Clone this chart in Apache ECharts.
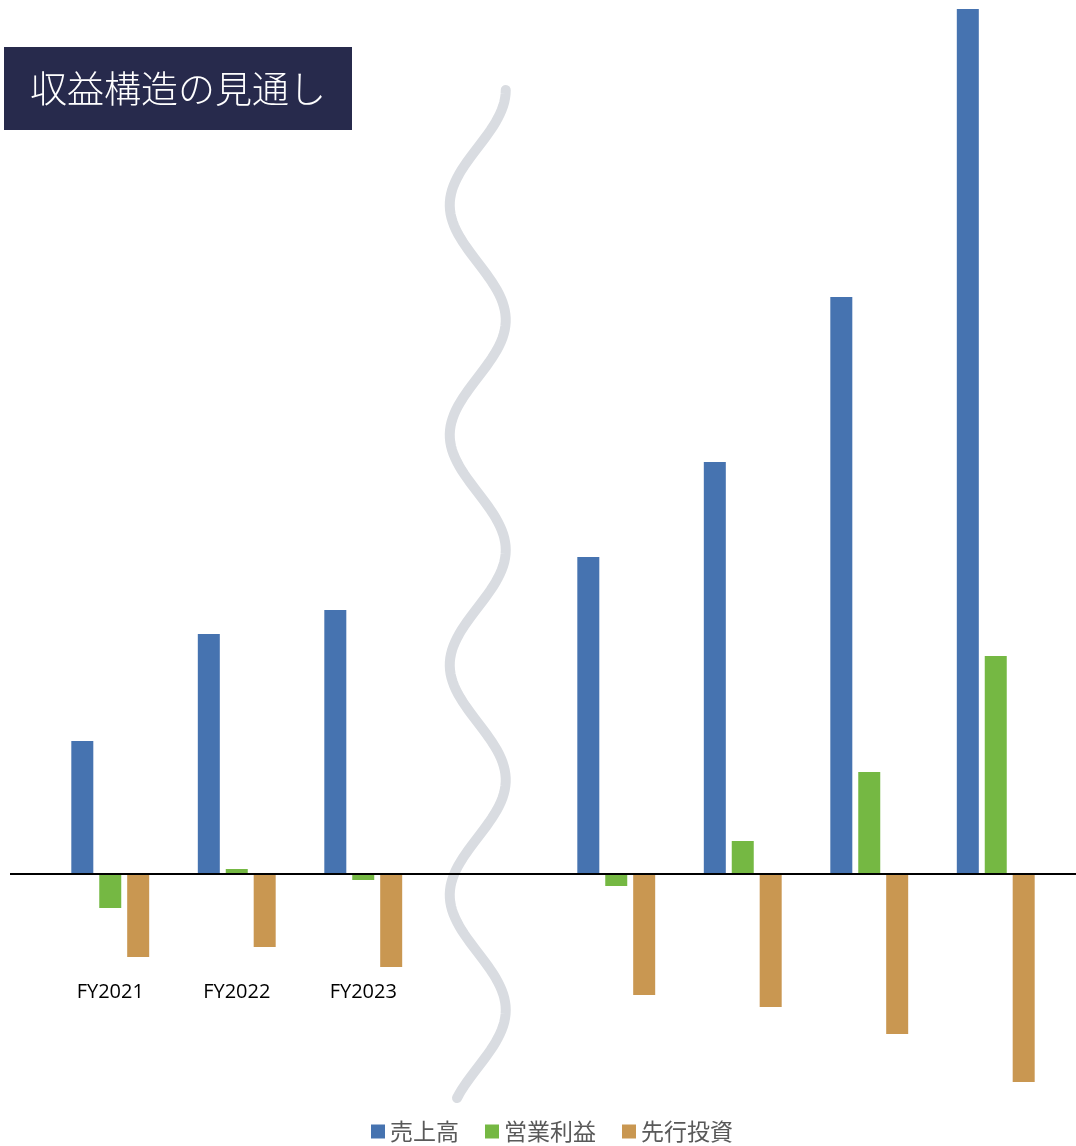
<!DOCTYPE html>
<html>
<head>
<meta charset="utf-8">
<script src="https://cdn.jsdelivr.net/npm/echarts@6/dist/echarts.min.js"></script>
<style>
  html, body { margin: 0; padding: 0; background: #fff; }
  #chart { width: 1076px; height: 1146px; }
</style>
</head>
<body>
<div id="chart"></div>
<script>
  // カテゴリ（4番目は波線の区切り用の空き枠）
  const categories = ['FY2021', 'FY2022', 'FY2023', '', 'FY2025', 'FY2026', 'FY2027', 'FY2028']
  const tickLabels = ['FY2021', 'FY2022', 'FY2023', '', '', '', '', '']
  const sales = [133, 240, 264, null, 317, 412, 577, 865]
  const opProfit = [-34, 5, -6, null, -12, 33, 102, 218]
  const investment = [-83, -73, -93, null, -121, -133, -160, -208]

  const chart = echarts.init(document.getElementById('chart'))

  chart.setOption({
    animation: false,
    textStyle: {
      fontFamily: '"Noto Sans CJK JP", "Noto Sans", sans-serif'
    },
    legend: {
      left: 366,
      bottom: -2,
      itemWidth: 14,
      itemHeight: 14,
      itemGap: 26,
      icon: 'rect',
      textStyle: {
        fontSize: 23,
        color: '#595959'
      },
      data: ['売上高', '営業利益', '先行投資']
    },
    grid: {
      top: 9,
      left: 47,
      right: 17,
      bottom: 22,
      containLabel: false,
      outerBoundsMode: 'none'
    },
    xAxis: {
      type: 'category',
      data: categories,
      axisLine: { show: false, onZero: false },
      axisTick: { show: false },
      axisLabel: {
        margin: -142,
        fontSize: 20,
        color: '#000',
        fontFamily: '"Open Sans", sans-serif',
        formatter: (val, idx) => tickLabels[idx]
      }
    },
    yAxis: {
      type: 'value',
      show: false,
      min: -250,
      max: 865,
      splitLine: { show: false }
    },
    series: [
      {
        name: '売上高',
        type: 'bar',
        data: sales,
        barWidth: 22,
        barGap: '27%',
        itemStyle: { color: '#4673b0' }
      },
      {
        name: '営業利益',
        type: 'bar',
        data: opProfit,
        barWidth: 22,
        barGap: '27%',
        itemStyle: { color: '#75b843' }
      },
      {
        name: '先行投資',
        type: 'bar',
        data: investment,
        barWidth: 22,
        barGap: '27%',
        itemStyle: { color: '#c99751' }
      }
    ]
  })

  // ゼロライン・波線・タイトル
  const zeroY = chart.convertToPixel({ yAxisIndex: 0 }, 0)
  const gapX = chart.convertToPixel({ xAxisIndex: 0 }, 3) - 12
  const wave = []
  for (let y = 90; y <= 1100; y += 4) {
    wave.push([gapX + 28 * Math.cos((2 * Math.PI * (y - 90)) / 230), y])
  }

  chart.setOption({
    graphic: [
      {
        type: 'polyline',
        shape: { points: wave },
        style: { stroke: '#d9dce1', lineWidth: 10, fill: null, lineCap: 'round' },
        z: 1
      },
      {
        type: 'line',
        shape: { x1: 10, y1: zeroY, x2: 1076, y2: zeroY },
        style: { stroke: '#000', lineWidth: 2 },
        z: 10
      },
      {
        type: 'group',
        left: 4,
        top: 47,
        children: [
          {
            type: 'rect',
            shape: { width: 348, height: 83 },
            style: { fill: '#272a4c' }
          },
          {
            type: 'text',
            x: 26,
            y: 42,
            style: {
              text: '収益構造の見通し',
              fill: '#fff',
              fontSize: 37,
              fontWeight: 300,
              fontFamily: '"Noto Sans CJK JP", sans-serif',
              verticalAlign: 'middle'
            }
          }
        ]
      }
    ]
  })
</script>
</body>
</html>
